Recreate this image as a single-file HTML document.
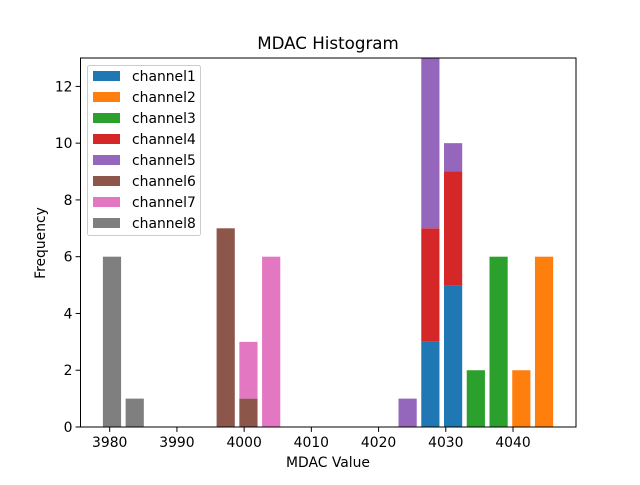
<!DOCTYPE html>
<html><head><meta charset="utf-8"><style>
body{margin:0;background:#fff}
svg text{font-family:"DejaVu Sans","Liberation Sans",sans-serif;fill:#000}
</style></head><body>
<svg id="chart" width="640" height="480" xmlns="http://www.w3.org/2000/svg">
<rect width="640" height="480" fill="#fff"/>
<g id="bars"></g>
<g id="axes"></g>
<g id="legend"></g>
</svg>
<script>
const channels = ["channel1","channel2","channel3","channel4","channel5","channel6","channel7","channel8"];
const colors = ["#1f77b4","#ff7f0e","#2ca02c","#d62728","#9467bd","#8c564b","#e377c2","#7f7f7f"];
const binStart = 3978.65;
const binWidth = 3.383;
const ch1 = [0,0,0,0,0,0,0,0,0,0,0,0,0,0,3,5,0,0,0,0];
const ch2 = [0,0,0,0,0,0,0,0,0,0,0,0,0,0,0,0,0,0,2,6];
const ch3 = [0,0,0,0,0,0,0,0,0,0,0,0,0,0,0,0,2,6,0,0];
const ch4 = [0,0,0,0,0,0,0,0,0,0,0,0,0,0,4,4,0,0,0,0];
const ch5 = [0,0,0,0,0,0,0,0,0,0,0,0,0,1,6,1,0,0,0,0];
const ch6 = [0,0,0,0,0,7,1,0,0,0,0,0,0,0,0,0,0,0,0,0];
const ch7 = [0,0,0,0,0,0,2,6,0,0,0,0,0,0,0,0,0,0,0,0];
const ch8 = [6,1,0,0,0,0,0,0,0,0,0,0,0,0,0,0,0,0,0,0];
const xTicks = [3980,3990,4000,4010,4020,4030,4040];
const yTicks = [0,2,4,6,8,10,12];
const series = [ch1,ch2,ch3,ch4,ch5,ch6,ch7,ch8];

const L=80.5,R=576,T=58,B=427;
const xScale=v=>109.7+(v-3980)*6.722;
const yScale=v=>B-(v/13)*(B-T);
const NS="http://www.w3.org/2000/svg";
function mk(tag,attrs,parent){const e=document.createElementNS(NS,tag);for(const k in attrs)e.setAttribute(k,attrs[k]);parent.appendChild(e);return e;}

const bars=document.getElementById('bars');
const cum=new Array(ch1.length).fill(0);
series.forEach((s,ci)=>{
  s.forEach((v,i)=>{
    if(v>0){
      const x0=binStart+i*binWidth+0.1*binWidth, x1=x0+0.8*binWidth;
      const r=mk('rect',{x:xScale(x0),y:yScale(cum[i]+v),width:xScale(x1)-xScale(x0),height:yScale(cum[i])-yScale(cum[i]+v),fill:colors[ci]},bars);
      
      
    }
    cum[i]+=v;
  });
});

const ax=document.getElementById('axes');
const frame=mk('rect',{x:L,y:T,width:R-L,height:B-T,fill:'none',stroke:'#000','stroke-width':1},ax);


xTicks.forEach(t=>{
  const x=xScale(t);
  mk('line',{x1:x,x2:x,y1:B,y2:B+4.9,stroke:'#000'},ax);
  const tx=mk('text',{x:x,y:B+20,'text-anchor':'middle','font-size':13.9},ax);
  tx.textContent=t;
  
  
});
yTicks.forEach(t=>{
  const y=yScale(t);
  mk('line',{x1:L,x2:L-4.9,y1:y,y2:y,stroke:'#000'},ax);
  const tx=mk('text',{x:L-8,y:y+5,'text-anchor':'end','font-size':13.9},ax);
  tx.textContent=t;
  
  
});
const title=mk('text',{x:328,y:49,'text-anchor':'middle','font-size':16.7},ax);
title.textContent='MDAC Histogram';


const xl=mk('text',{x:328,y:467,'text-anchor':'middle','font-size':13.9},ax);
xl.textContent='MDAC Value';


const yl=mk('text',{x:45,y:243,'text-anchor':'middle','font-size':13.9,transform:'rotate(-90 45 243)'},ax);
yl.textContent='Frequency';



const lg=document.getElementById('legend');
const box=mk('rect',{x:87.5,y:65.5,width:113,height:170,rx:2,fill:'#fff','fill-opacity':0.8,stroke:'#ccc'},lg);


channels.forEach((c,i)=>{
  const y=76+i*21;
  const g=mk('g',{},lg);
  
  
  mk('rect',{x:93,y:y-5,width:27,height:10,fill:colors[i]},g);
  const t=mk('text',{x:132,y:y+5,'font-size':13.9},g);
  t.textContent=c;
});
</script>
</body></html>
